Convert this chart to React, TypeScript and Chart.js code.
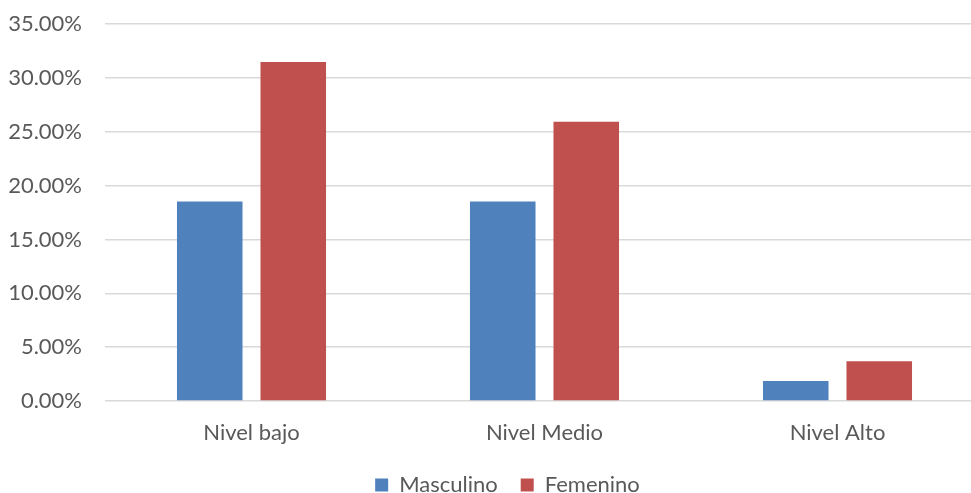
import React, { useEffect, useRef } from "react";
import { Chart, registerables } from "chart.js";

Chart.register(...registerables);

const categories = ["Nivel bajo", "Nivel Medio", "Nivel Alto"];
const masculino = [18.52, 18.52, 1.85];
const femenino = [31.48, 25.93, 3.7];
const yTicks = [0, 5, 10, 15, 20, 25, 30, 35];

const FONT = "Lato, 'Open Sans', sans-serif";
const TEXT = "#595959";

export default function App() {
  const ref = useRef<HTMLCanvasElement | null>(null);

  useEffect(() => {
    if (!ref.current) return;
    const chart = new Chart(ref.current, {
      type: "bar",
      data: {
        labels: categories,
        datasets: [
          {
            label: "Masculino",
            data: masculino,
            backgroundColor: "#4F81BD",
            categoryPercentage: 0.57,
            barPercentage: 0.785,
          },
          {
            label: "Femenino",
            data: femenino,
            backgroundColor: "#C0504D",
            categoryPercentage: 0.57,
            barPercentage: 0.785,
          },
        ],
      },
      options: {
        animation: false,
        responsive: false,
        layout: { padding: { top: 24, left: 0, right: 0, bottom: 0 } },
        plugins: {
          tooltip: { enabled: false },
          legend: {
            position: "bottom",
            labels: {
              boxWidth: 13,
              boxHeight: 13,
              padding: 23,
              color: TEXT,
              font: { family: FONT, size: 22 },
            },
          },
        },
        scales: {
          x: {
            grid: { display: false },
            border: { display: false },
            ticks: {
              color: TEXT,
              font: { family: FONT, size: 22 },
              padding: 11,
            },
            afterFit: (s: any) => {
              s.height = 50;
              s.paddingLeft = 0;
              s.paddingRight = 0;
            },
          },
          y: {
            min: 0,
            max: 35,
            afterBuildTicks: (s: any) => {
              s.ticks = yTicks.map((v) => ({ value: v }));
            },
            grid: { color: "#d9d9d9", lineWidth: 1.5, drawTicks: false },
            border: { display: false },
            ticks: {
              color: TEXT,
              font: { family: FONT, size: 22 },
              padding: 23,
              callback: (v: any) => Number(v).toFixed(2) + "%",
            },
            afterFit: (s: any) => {
              s.width = 105;
              s.paddingTop = 0;
              s.paddingBottom = 0;
            },
          },
          yRight: {
            position: "right",
            display: true,
            grid: { display: false },
            border: { display: false },
            ticks: { display: false },
            afterFit: (s: any) => {
              s.width = 31;
              s.paddingTop = 0;
              s.paddingBottom = 0;
            },
          },
        },
      },
    });
    return () => chart.destroy();
  }, []);

  return (
    <div
      style={{
        position: "fixed",
        left: 0,
        top: 0,
        width: 971,
        height: 493,
        overflow: "hidden",
        background: "#fff",
      }}
    >
      <canvas ref={ref} width={1015} height={506} style={{ display: "block" }} />
    </div>
  );
}
